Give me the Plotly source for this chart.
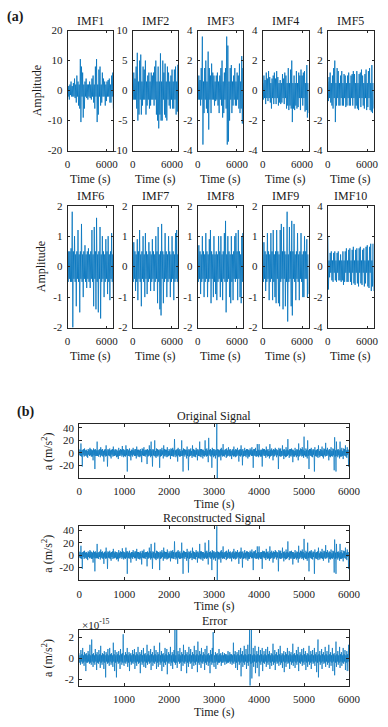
import numpy as np
import plotly.graph_objects as go

W, H = 388, 727

# ---------------- data (hand-estimated from the picture) ----------------
imf_names = ["IMF1", "IMF2", "IMF3", "IMF4", "IMF5",
             "IMF6", "IMF7", "IMF8", "IMF9", "IMF10"]
imf_time_max = 7000
imf_ylim = [20, 10, 4, 4, 4, 2, 2, 2, 2, 4]
imf_xticks = [0, 6000]

imf1 = [2, -2, 1.5, -3, 2, -1.5, 3, -2, 1.5, -2,
        2.5, -2, 4, -2.5, 2, -4, 5, -2, 3, -5,
        2, -6, 10.5, -10.5, 8, -2, 6, -9, 2, -6,
        3, -2, 4, -2.5, 2, -3, 2, -2, 3, -2.5,
        2, -3, 4, -2, 5, -4, 2, -6, 8, -2,
        10.5, -10.5, 2, -8, 7, -2, 8, -5, 2, -4,
        6, -2, 4, -2, 3, -5, 2, -3.5, 3, -2,
        3.5, -2, 4, -4, 2, -4, 5, -2, 6, -6]
imf2 = [1.5, -1.5, 3, -1.5, 2, -1.5, 4, -3, 6.3, -5,
        1.5, -4, 5, -1.5, 6, -4, 1.5, -2.5, 4, -1.5,
        3.5, -1.5, 5, -4, 1.5, -2.5, 2.5, -1.5, 3, -3,
        1.5, -2.5, 3, -1.5, 2.5, -1.5, 3, -2.5, 4, -1.5,
        5, -4, 1.5, -5, 4, -6.3, 1.5, -4, 6.2, -5,
        1.5, -5, 5, -1.5, 3, -4, 4.5, -4.5, 1.5, -5,
        4, -1.5, 3, -2.5, 1.5, -3, 2.5, -1.5, 3.5, -3,
        1.5, -3, 3.5, -1.5, 4, -4, 1.5, -3.5, 4.3, -4.5]
imf3 = [0.6, -0.6, 1, -0.6, 0.7, -1, 1.5, -0.6, 3.6, -3.6,
        0.6, -1.5, 1.5, -0.6, 2, -1.2, 0.6, -1.5, 2.6, -2.6,
        1.5, -0.6, 1, -1.5, 1.8, -0.6, 1.2, -0.6, 1, -1,
        0.6, -0.7, 1, -0.6, 1.2, -1, 0.6, -1.5, 1, -0.6,
        1.5, -1, 2, -1.8, 0.6, -1.5, 1.2, -0.6, 1.5, -1.2,
        3.6, -3.6, 3, -3.4, 0.6, -2, 1.5, -0.6, 1.7, -1.5,
        0.6, -1, 1, -0.6, 1.5, -1, 0.6, -1, 1.2, -0.6,
        1, -1.2, 1.8, -1.5, 0.6, -1.2, 2.3, -2.2, 1.5, -1.8]
imf4 = [0.5, -0.6, 1, -0.5, 0.7, -0.9, 1.2, -0.5, 0.8, -0.7,
        1.3, -0.5, 0.9, -0.8, 0.5, -1.2, 0.8, -0.5, 1, -0.9,
        1.2, -0.5, 0.8, -0.9, 1.3, -0.5, 0.9, -1, 0.5, -0.8,
        0.7, -0.9, 0.5, -0.8, 1.1, -0.5, 0.8, -0.9, 1.2, -0.5,
        1, -1.2, 0.5, -1, 1.5, -1.3, 0.5, -1, 1.4, -1.2,
        2, -2.1, 0.5, -1.2, 1, -1.3, 0.5, -1, 1.3, -1.2,
        0.5, -1.1, 1.2, -0.5, 1, -1.3, 1.4, -0.5, 1, -1,
        1.2, -0.5, 1.3, -1.4, 0.5, -1.3, 1.7, -1.8, 0.5, -1.5]
imf5 = [0.6, -0.7, 0.9, -0.5, 1.2, -0.8, 0.5, -1, 1, -1.2,
        1.5, -0.5, 2, -2.1, 0.5, -1, 1.5, -0.5, 1.3, -1,
        0.5, -1, 1, -0.5, 1.3, -1, 0.5, -1, 1.1, -0.5,
        1, -1.1, 0.5, -1, 1, -0.5, 1.2, -1, 0.5, -1,
        1, -0.5, 1.1, -1, 1.3, -0.5, 1.1, -1.2, 0.5, -1,
        1.3, -1.2, 0.5, -1.3, 1.1, -0.5, 1.2, -1.1, 1.4, -0.5,
        1, -1, 0.5, -1.2, 1.1, -0.5, 1.4, -1.3, 0.5, -1.1,
        1.3, -0.5, 1.5, -1.3, 0.5, -1.4, 1.7, -1.5, 0.5, -1.2]
imf6 = [0.4, -0.5, 0.5, -0.4, 0.5, -0.5, 0.6, -0.5, 1.8, -2,
        0.5, -0.4, 1, -0.5, 0.4, -1.3, 0.5, -0.4, 1.2, -0.5,
        0.4, -1.5, 0.5, -0.4, 1.4, -0.5, 0.4, -1, 0.5, -0.4,
        0.7, -0.5, 0.4, -0.7, 0.5, -0.4, 0.6, -0.5, 0.4, -0.7,
        0.5, -0.4, 1.2, -0.5, 0.4, -1.3, 1.3, -0.4, 0.5, -1.4,
        1.6, -0.5, 0.4, -1.5, 0.5, -0.4, 1.3, -1.7, 0.4, -0.5,
        1, -0.4, 0.5, -1, 0.4, -0.5, 0.9, -0.4, 0.5, -0.9,
        1, -0.5, 0.4, -1.1, 0.5, -0.4, 1.1, -0.5, 0.4, -1]
imf7 = [0.4, -0.5, 0.8, -0.4, 0.5, -0.8, 0.4, -0.5, 0.9, -1.1,
        0.5, -0.4, 1.2, -0.5, 0.4, -1.3, 0.5, -0.4, 1, -0.5,
        0.4, -1, 1.1, -0.4, 0.5, -0.9, 0.4, -0.5, 0.8, -0.4,
        0.5, -0.8, 0.4, -0.5, 0.9, -0.4, 0.5, -0.8, 0.4, -0.5,
        1, -0.4, 0.5, -1.2, 1.3, -0.5, 0.4, -1.4, 0.5, -1.6,
        1.4, -0.4, 0.5, -1.2, 0.4, -0.5, 1.1, -0.4, 0.5, -1,
        0.4, -0.5, 1, -0.4, 0.5, -1, 0.4, -0.5, 1, -0.4,
        0.5, -1.1, 0.4, -0.5, 1.1, -0.4, 1.2, -0.5, 0.4, -1]
imf8 = [0.4, -0.5, 0.7, -0.4, 0.5, -0.9, 0.4, -0.5, 1, -0.4,
        0.5, -1, 0.4, -0.5, 1.1, -0.4, 0.5, -1, 0.4, -0.5,
        0.9, -0.4, 1.2, -1.2, 0.5, -0.4, 0.4, -1, 1, -0.5,
        0.4, -0.9, 0.5, -1.1, 0.4, -0.5, 1, -0.4, 0.5, -1,
        1, -0.5, 0.4, -1.1, 0.5, -0.4, 1.1, -0.5, 1.5, -1.5,
        0.4, -0.5, 1, -0.4, 0.5, -1, 0.4, -1.2, 1, -0.5,
        0.4, -1.1, 0.5, -0.4, 1, -0.5, 1.1, -0.4, 0.5, -1.1,
        1.2, -0.4, 0.5, -1, 0.4, -1.2, 1, -0.5, 1.1, -0.4]
imf9 = [0.4, -0.5, 0.8, -0.4, 0.5, -0.8, 0.4, -0.5, 1.1, -0.4,
        0.5, -1.1, 0.4, -0.5, 1.1, -0.4, 0.5, -1.1, 1.2, -0.5,
        0.4, -1, 0.5, -1.2, 1.2, -0.4, 0.5, -1.2, 0.4, -1.3,
        1.2, -0.5, 1.4, -0.4, 0.5, -1.4, 1.3, -0.4, 0.5, -1.3,
        0.4, -0.5, 1.8, -1.8, 0.4, -0.5, 1.3, -0.4, 0.5, -1.3,
        1.5, -1.6, 0.5, -0.4, 1.4, -0.5, 0.4, -1.1, 0.5, -0.4,
        1.1, -0.5, 0.4, -1.1, 0.5, -0.4, 1.1, -0.5, 0.4, -1,
        0.5, -1, 1, -0.4, 0.5, -0.4, 0.9, -1, 0.4, -0.9]
imf10 = [2, -1.5, 0.4, -0.7, 0.9, -0.4, 1, -0.9, 0.4, -1,
         0.9, -0.4, 1, -0.9, 0.4, -1, 0.9, -0.4, 1, -0.9,
         0.4, -0.9, 0.8, -1, 0.4, -0.9, 1, -1.2, 0.4, -1,
         1, -0.4, 1.2, -1, 0.4, -1, 1.1, -0.4, 1.2, -1,
         0.4, -1.2, 1.1, -0.4, 1.3, -1.1, 0.4, -1.2, 1.1, -0.4,
         1.2, -1.1, 0.4, -1.3, 1.2, -0.4, 1.3, -1.1, 0.4, -1.2,
         1.1, -0.4, 1.2, -1.3, 0.4, -1.1, 1.3, -0.4, 1.4, -1.3,
         0.4, -1.4, 1.3, -0.4, 1.5, -1.6, 0.4, -1.3, 1.5, -1.6]
imf_values = [imf1, imf2, imf3, imf4, imf5, imf6, imf7, imf8, imf9, imf10]

signal_dt = 10  # s between listed samples (0 ... 6000 s)
original_signal = [
    6, -4, 5, -5, 15, -6, 4, -22, 5, -3, 6, -6, 7, -5, 4, -4, 5, -6, 3, -8,
    6, -3, 5, -5, 8, -4, 6, -6, 5, -6, 4, -12, 7, -4, 5, -26, 6, -5, 4, -5,
    18, -5, 4, -6, 5, -3, 6, -7, 9, -4, 5, -5, 6, -6, 3, -14, 5, -4, 6, -6,
    12, -5, 4, -22, 6, -4, 5, -5, 7, -6, 4, -9, 5, -3, 6, -6, 10, -5, 4, -5,
    6, -4, 5, -7, 5, -6, 3, -10, 8, -5, 4, -5, 6, -3, 5, -6, 11, -4, 6, -7,
    5, -5, 4, -6, 12, -4, 6, -30, 6, -5, 4, -5, 7, -6, 3, -12, 5, -4, 5, -6,
    8, -3, 4, -5, 6, -5, 6, -9, 10, -4, 5, -6, 5, -6, 4, -7, 6, -5, 3, -15,
    7, -4, 6, -5, 9, -5, 4, -6, 5, -3, 5, -18, 6, -6, 4, -5, 12, -4, 6, -7,
    18, -5, 4, -22, 6, -4, 5, -5, 20, -6, 3, -8, 7, -5, 6, -6, 5, -4, 4, -24,
    6, -6, 5, -5, 8, -3, 4, -9, 12, -5, 6, -6, 5, -4, 5, -7, 9, -6, 3, -5,
    6, -4, 4, -10, 7, -5, 6, -5, 8, -6, 5, -6, 22, -3, 4, -7, 5, -5, 6, -14,
    8, -4, 5, -6, 6, -6, 3, -5, 20, -5, 4, -30, 7, -4, 6, -6, 5, -3, 5, -9,
    10, -5, 4, -28, 6, -6, 5, -5, 7, -4, 3, -8, 12, -5, 6, -6, 5, -6, 4, -7,
    8, -3, 5, -12, 6, -5, 4, -5, 18, -6, 6, -7, 6, -4, 5, -9, 5, -5, 3, -6,
    20, -4, 6, -6, 7, -5, 4, -15, 24, -3, 5, -5, 6, -6, 4, -24, 8, -4, 6, -7,
    6, -5, 4, -9, 5, -4, 50, -45, 6, -6, 5, -7, 4, -5, 6, -12, 8, -4, 5, -6,
    14, -5, 4, -6, 5, -3, 6, -8, 7, -6, 4, -5, 9, -4, 5, -6, 6, -5, 3, -10,
    5, -4, 6, -6, 10, -5, 4, -7, 6, -6, 5, -5, 8, -3, 4, -14, 5, -5, 6, -6,
    12, -4, 5, -20, 6, -6, 3, -5, 8, -5, 4, -7, 6, -4, 6, -9, 5, -6, 4, -6,
    7, -3, 5, -5, 9, -5, 4, -24, 6, -4, 6, -5, 8, -6, 3, -6, 14, -5, 5, -7,
    14, -4, 4, -6, 5, -6, 5, -22, 7, -3, 6, -5, 6, -5, 4, -8, 10, -4, 5, -6,
    6, -5, 3, -9, 14, -6, 5, -5, 7, -4, 4, -12, 6, -6, 5, -5, 8, -3, 6, -7,
    5, -4, 4, -26, 8, -5, 6, -6, 7, -6, 3, -5, 12, -4, 5, -10, 6, -5, 4, -7,
    9, -6, 5, -5, 22, -3, 4, -8, 6, -5, 6, -6, 7, -4, 5, -15, 5, -6, 3, -6,
    8, -4, 4, -7, 6, -5, 5, -12, 15, -6, 4, -5, 7, -3, 6, -6, 9, -5, 5, -8,
    26, -4, 3, -6, 7, -6, 5, -9, 20, -5, 4, -26, 6, -4, 6, -5, 8, -6, 4, -7,
    6, -3, 5, -30, 9, -5, 4, -6, 5, -6, 6, -8, 12, -4, 3, -7, 6, -5, 5, -5,
    10, -6, 4, -9, 7, -4, 6, -6, 16, -5, 5, -5, 8, -3, 4, -12, 6, -6, 5, -7,
    9, -5, 3, -6, 7, -4, 6, -28, 25, -6, 4, -30, 18, -5, 5, -7, 6, -4, 4, -9,
    18, -6, 5, -6, 8, -5, 3, -10, 7, -4, 6, -5, 12, -6, 4, -8, 9, -3, 5, -22,
    5]
# the reconstruction is visually identical to the original signal
reconstructed_signal = list(original_signal)
# error in units of 1e-15 m/s^2
error_e15 = [
    0.5, -0.4, 0.3, -0.6, 0.8, -0.3, 0.4, -0.5, 1, -0.4, 0.3, -0.7, 0.6, -0.3, 0.4, -1.2, 0.5, -0.4, 0.3, -0.4,
    0.7, -0.3, 0.4, -0.5, 1.3, -0.4, 0.3, -0.6, 1.8, -0.3, 0.4, -0.8, 0.5, -0.4, 0.3, -0.6, 0.9, -0.3, 0.4, -1.1,
    0.6, -0.4, 0.3, -0.5, 0.8, -0.3, 0.4, -0.9, 1.2, -0.4, 0.3, -0.6, 0.5, -0.3, 0.4, -1, 0.7, -0.4, 0.3, -1.8,
    0.6, -0.3, 0.4, -0.5, 0.9, -0.4, 0.3, -0.7, 1, -0.3, 0.4, -0.6, 0.5, -0.4, 0.3, -0.8, 1.5, -0.3, 0.4, -1.2,
    0.8, -0.4, 0.3, -1.8, 0.6, -0.3, 0.4, -0.5, 0.7, -0.4, 0.3, -1, 0.9, -0.3, 0.4, -0.6, 0.5, -0.4, 2.3, -0.5,
    -0.7, 0.3, -0.4, 0.6, -0.5, 0.4, -0.3, 1, -0.8, 0.3, -0.4, 0.6, -1.2, 0.4, -0.3, 0.5, -0.6, 0.3, -0.4, 0.8,
    -0.5, 0.4, -0.3, 0.9, -1, 0.3, -0.4, 0.6, -0.7, 0.4, -0.3, 1.1, -0.5, 0.3, -0.4, 0.6, -1.4, 0.4, -0.3, 0.8,
    -0.6, 0.3, -0.4, 1, -0.8, 0.4, -0.3, 0.5, -0.9, 0.3, -0.4, 1.3, -0.6, 0.4, -0.3, 0.7, -0.5, 0.3, -0.4, 0.9,
    -1.1, 0.4, -0.3, 0.6, -0.7, 0.3, -0.4, 1.2, -0.5, 0.4, -0.3, 0.8, -1, 0.3, -0.4, 0.6, -0.8, 0.4, -0.3, 1.5,
    -0.6, 0.3, -0.4, 0.7, -1.2, 0.4, -0.3, 0.5, -0.8, 0.3, -0.4, 1, -0.6, 0.4, -0.3, 0.9, -1.5, 0.3, -0.4, 0.6,
    -0.5, 0.4, -0.3, 1.1, -0.7, 0.3, -0.4, 0.6, -1, 0.4, -0.3, 0.8, -0.4, 2.9, -0.6, 0.3, -0.4, 2.9, -0.9, 0.4,
    0.7, -0.3, 0.4, -0.5, 1, -0.4, 0.3, -1.2, 0.6, -0.3, 0.4, -0.7, 1.3, -0.4, 0.3, -0.5, 0.8, -0.3, 0.4, -1.4,
    0.6, -0.4, 0.3, -0.8, 1.1, -0.3, 0.4, -0.5, 0.9, -0.4, 0.3, -1, 0.6, -0.3, 0.4, -0.7, 1.2, -0.4, 0.3, -0.6,
    0.8, -0.3, 0.4, -1.3, 1.6, -0.4, 0.3, -0.6, 0.7, -0.3, 0.4, -0.9, 1, -0.4, 0.3, -0.5, 0.6, -0.3, 0.4, -1.1,
    0.9, -0.4, 0.3, -0.6, 1.2, -0.3, 0.4, -0.7, 0.5, -0.4, 0.3, -1.4, 0.8, -0.3, 0.4, -0.6, 1, -0.4, 2.5, -0.5,
    -0.8, 0.3, -0.4, 0.6, -1, 0.4, -0.3, 0.5, -0.6, 0.3, -0.4, 0.9, -0.4, 0.4, -0.3, 0.5, -0.7, 0.3, -0.4, 0.6,
    -0.4, 0.3, -0.3, 0.5, -0.6, 0.4, -0.3, 0.4, -0.5, 0.3, -0.4, 0.7, -0.4, 0.3, -0.3, 0.6, -0.5, 0.4, -0.3, 0.4,
    -0.6, 0.3, -0.4, 1.5, -0.5, 0.4, -0.3, 0.7, -0.9, 0.3, -0.4, 0.6, -1.1, 0.4, -0.3, 0.8, -0.6, 0.3, -0.4, 1,
    -1.7, 0.4, -0.3, 0.7, -0.8, 0.3, -0.4, 1.2, -0.6, 0.4, -0.3, 0.9, -1, 0.3, -0.4, 1.3, -0.7, 0.4, -0.3, 2.9,
    -2.9, 0.4, -0.5, 2.9, -1.9, 0.3, -0.4, 1, -0.8, 0.4, -0.3, 1.2, -1.4, 0.3, -0.4, 0.7, -0.9, 0.4, -0.3, 1.1,
    -1.7, 0.3, -0.4, 0.8, -0.6, 0.4, -0.3, 1, -1.2, 0.3, -0.4, 0.7, -0.5, 0.4, -0.3, 0.9, -0.8, 0.3, -0.4, 1.1,
    -0.6, 0.4, -0.3, 0.7, -1, 0.3, -0.4, 0.5, -0.7, 0.4, -0.3, 1.4, -0.6, 0.3, -0.4, 0.8, -1.1, 0.4, -0.3, 0.6,
    -0.5, 0.3, -0.4, 0.9, -0.7, 0.4, -0.3, 1.2, -0.6, 0.3, -0.4, 0.5, -0.9, 0.4, -0.3, 0.7, -1.3, 0.3, -0.4, 0.6,
    -0.8, 0.4, -0.3, 1, -0.5, 0.3, -0.4, 0.7, -1, 0.4, -0.3, 0.6, -0.6, 0.3, -0.4, 1.4, -0.7, 0.4, -0.3, 0.5,
    -0.9, 0.3, -0.4, 0.8, -0.6, 0.4, -0.3, 1.1, -1.2, 0.3, -0.4, 0.6, -0.5, 0.4, -0.3, 0.9, -0.7, 0.3, -0.4, 1,
    -0.6, 0.4, -0.3, 0.7, -1.1, 0.3, -0.4, 0.5, -0.8, 0.4, -0.3, 1.2, -0.6, 0.3, -0.4, 0.7, -1, 0.4, -0.3, 0.8,
    -0.5, 0.3, -0.4, 1, -0.7, 0.4, -0.3, 0.6, -1.3, 0.3, -0.4, 1.8, -1.8, 0.4, -0.3, 0.7, -0.6, 0.3, -0.4, 0.9,
    -1, 0.4, -0.3, 0.6, -0.5, 0.3, -0.4, 1.1, -0.8, 0.4, -0.3, 0.7, -0.6, 0.3, -0.4, 1.3, -0.9, 0.4, -0.3, 0.6,
    -0.7, 0.3, -0.4, 1, -1.2, 0.4, -0.3, 0.5, -1.6, 0.3, -0.4, 1.6, -0.8, 0.4, -0.3, 0.7, -0.6, 0.3, -0.4, 1.1,
    -0.9, 0.4, -0.3, 0.6, -0.7, 0.3, -0.4, 1, -0.5, 0.4, -0.3, 0.8, -1.1, 0.3, -0.4, 0.7, -1.2, 0.4, -0.3, 1.3,
    -1.2]

b_titles = ["Original Signal", "Reconstructed Signal", "Error"]
b_xticks = [0, 1000, 2000, 3000, 4000, 5000, 6000]
err_xticks = [1000, 2000, 3000, 4000, 5000, 6000]
sig_yticks = [-20, 0, 20, 40]
sig_yrange = [-40.5, 46.3]
err_yticks = [-2, 0, 2]
err_yrange = [-2.58, 2.75]

# ---------------- styling / layout ----------------
FONT = "Liberation Serif, Times New Roman, serif"
TXT = "#1a1a1a"
LINE = "#0072BD"
AX = "#262626"

imf_left = [67, 134.5, 202, 269.5, 337]
imf_w = 47.5
imf_rows = [(25, 147), (203, 327)]
b_left, b_right = 79, 359
b_rows = [(425, 480), (529, 584), (634, 691)]


def xdom(a, b):
    return [a / W, b / W]


def ydom(top, bottom):
    return [1 - bottom / H, 1 - top / H]


def fmt(v):
    return str(int(v)) if float(v).is_integer() else str(v)


fig = go.Figure()
layout = dict(width=W, height=H, margin=dict(l=0, r=0, t=0, b=0),
              paper_bgcolor="white", plot_bgcolor="white",
              showlegend=False, font=dict(family=FONT, color=TXT, size=11))
annotations = []


def axis_common(ticklen):
    return dict(showline=True, linecolor=AX, linewidth=1, mirror="allticks",
                ticks="inside", ticklen=ticklen, tickwidth=1, tickcolor=AX,
                showgrid=False, zeroline=False,
                tickfont=dict(family=FONT, size=11, color=TXT))


def ann(text, x, y, size=12, angle=0, xanchor="center", bold=False):
    if bold:
        text = "<b>" + text + "</b>"
    annotations.append(dict(text=text, x=x / W, y=1 - y / H, xref="paper", yref="paper",
                            showarrow=False, xanchor=xanchor, yanchor="middle",
                            textangle=angle, font=dict(family=FONT, size=size, color=TXT)))


n = 0
for k, (name, vals, lim) in enumerate(zip(imf_names, imf_values, imf_ylim)):
    n += 1
    row, col = divmod(k, 5)
    top, bottom = imf_rows[row]
    left = imf_left[col]
    t = np.linspace(0, imf_time_max, len(vals))
    sx = "" if n == 1 else str(n)
    fig.add_trace(go.Scatter(x=t, y=vals, mode="lines", xaxis="x" + sx, yaxis="y" + sx,
                             line=dict(color=LINE, width=0.8, simplify=False),
                             hoverinfo="skip"))
    yt = [-lim, -lim / 2, 0, lim / 2, lim]
    xa = axis_common(2)
    xa.update(domain=xdom(left, left + imf_w), anchor="y" + sx, range=[0, imf_time_max],
              tickvals=imf_xticks, ticktext=[fmt(v) for v in imf_xticks], ticklabelstandoff=3)
    ya = axis_common(2)
    ya.update(domain=ydom(top, bottom), anchor="x" + sx, range=[-lim, lim],
              tickvals=yt, ticktext=[fmt(v) for v in yt], ticklabelstandoff=2)
    layout["xaxis" + sx] = xa
    layout["yaxis" + sx] = ya
    cx = left + imf_w / 2
    ann(name, cx, top - 10)
    ann("Time (s)", cx, bottom + 29)

ann("Amplitude", 35, 86, angle=-90)
ann("Amplitude", 39, 265, angle=-90)
ann("(a)", 2, 11, size=14, xanchor="left", bold=True)
ann("(b)", 12, 413, size=14, xanchor="left", bold=True)

b_series = [original_signal, reconstructed_signal, error_e15]
for j, (title, vals) in enumerate(zip(b_titles, b_series)):
    n += 1
    sx = str(n)
    top, bottom = b_rows[j]
    t = np.arange(len(vals)) * signal_dt
    fig.add_trace(go.Scatter(x=t, y=vals, mode="lines", xaxis="x" + sx, yaxis="y" + sx,
                             line=dict(color=LINE, width=0.7, simplify=False),
                             hoverinfo="skip"))
    is_err = j == 2
    xt = err_xticks if is_err else b_xticks
    yt = err_yticks if is_err else sig_yticks
    xa = axis_common(3)
    xa.update(domain=xdom(b_left, b_right), anchor="y" + sx,
              range=[1, 6000] if is_err else [0, 6000],
              tickvals=xt, ticktext=[fmt(v) for v in xt], ticklabelstandoff=3)
    ya = axis_common(3)
    ya.update(domain=ydom(top, bottom), anchor="x" + sx,
              range=err_yrange if is_err else sig_yrange,
              tickvals=yt, ticktext=[fmt(v) for v in yt], ticklabelstandoff=2)
    layout["xaxis" + sx] = xa
    layout["yaxis" + sx] = ya
    cx = (b_left + b_right) / 2
    ann(title, cx, top - 8.5)
    ann("Time (s)", cx, bottom + 26.5)
    ann("a (m/s<sup>2</sup>)", 46, (top + bottom) / 2, angle=-90)

ann("\u00d710<sup>-15</sup>", 80, 628, size=11, xanchor="left")

layout["annotations"] = annotations
fig.update_layout(**layout)
fig.write_html("out.html", config={"displayModeBar": False, "staticPlot": True})

# remove the default page margin so the figure sits at the window's top-left corner
with open("out.html", "r", encoding="utf-8") as fh:
    html = fh.read()
html = html.replace("<head>", "<head><style>html,body{margin:0;padding:0;overflow:hidden}</style>", 1)
with open("out.html", "w", encoding="utf-8") as fh:
    fh.write(html)
